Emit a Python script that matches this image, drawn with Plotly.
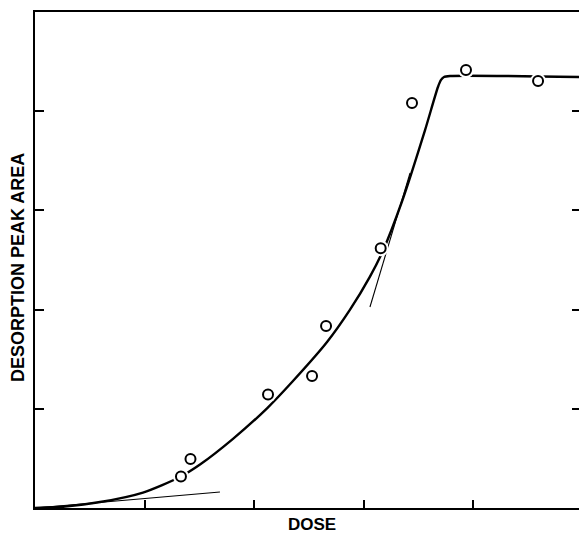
import plotly.graph_objects as go

# Measured data points (dose, desorption peak area), arbitrary units
dose_pts = [1.333, 1.420, 2.128, 2.530, 2.658, 3.157, 3.443, 3.936, 4.594]
area_pts = [0.318, 0.494, 1.144, 1.331, 1.835, 2.618, 4.083, 4.415, 4.304]

# Smooth fitted curve
curve_dose = [0.0, 0.274, 0.594, 0.986, 1.324, 1.507, 1.808, 2.119, 2.356, 2.667,
              2.877, 3.059, 3.178, 3.352, 3.562, 3.680, 3.708, 3.735, 3.790, 4.968]
curve_area = [0.0, 0.015, 0.060, 0.156, 0.313, 0.438, 0.697, 1.005, 1.280, 1.673,
              1.999, 2.332, 2.594, 3.092, 3.810, 4.244, 4.315, 4.345, 4.355, 4.345]

# Tangent lines
tan1_dose = [0.0, 1.689]
tan1_area = [0.0, 0.161]
tan2_dose = [3.059, 3.425]
tan2_area = [2.026, 3.377]

x_ticks = [1, 2, 3, 4]
y_ticks = [1, 2, 3, 4]
x_range = [0, 4.968]
y_range = [0, 5]

fig = go.Figure()
fig.add_trace(go.Scatter(x=tan1_dose, y=tan1_area, mode="lines",
                         line=dict(color="black", width=1.1), hoverinfo="skip"))
fig.add_trace(go.Scatter(x=tan2_dose, y=tan2_area, mode="lines",
                         line=dict(color="black", width=1.1), hoverinfo="skip"))
fig.add_trace(go.Scatter(x=curve_dose, y=curve_area, mode="lines",
                         line=dict(color="black", width=2.4, shape="spline", smoothing=0.7),
                         hoverinfo="skip"))
# white halo to break the curve around the circles
fig.add_trace(go.Scatter(x=dose_pts, y=area_pts, mode="markers",
                         marker=dict(symbol="circle", size=16, color="white",
                                     line=dict(width=0)), hoverinfo="skip"))
fig.add_trace(go.Scatter(x=dose_pts, y=area_pts, mode="markers",
                         marker=dict(symbol="circle", size=10, color="white",
                                     line=dict(color="black", width=2))))
# invisible trace on yaxis2 to show the right-side ticks
fig.add_trace(go.Scatter(x=[None], y=[None], yaxis="y2", showlegend=False))

font_bold = dict(family="Liberation Sans, Arial, sans-serif", color="black", weight="bold")

fig.update_layout(
    width=579, height=533,
    margin=dict(l=35, r=0, t=12, b=25, autoexpand=False),
    paper_bgcolor="white", plot_bgcolor="white",
    showlegend=False,
    xaxis=dict(range=x_range, tickvals=x_ticks, showticklabels=False,
               ticks="inside", ticklen=8, tickwidth=2, tickcolor="black",
               showline=True, linecolor="black", linewidth=2, mirror=True,
               showgrid=False, zeroline=False, automargin=False),
    yaxis=dict(range=y_range, tickvals=y_ticks, showticklabels=False,
               ticks="inside", ticklen=9, tickwidth=2, tickcolor="black",
               showline=True, linecolor="black", linewidth=2,
               showgrid=False, zeroline=False, automargin=False),
    yaxis2=dict(range=y_range, tickvals=y_ticks, showticklabels=False,
                overlaying="y", side="right",
                ticks="inside", ticklen=7, tickwidth=2, tickcolor="black",
                showline=False, showgrid=False, zeroline=False, automargin=False),
    annotations=[
        dict(text="DOSE", xref="paper", yref="paper", x=0.509, y=-0.034,
             xanchor="center", yanchor="middle", showarrow=False,
             font=dict(size=17, **font_bold)),
        dict(text="DESORPTION PEAK AREA", xref="paper", yref="paper", x=-0.031, y=0.484,
             xanchor="center", yanchor="middle", textangle=-90, showarrow=False,
             font=dict(size=18, **font_bold)),
    ],
)

fig.write_html("out.html", config={"displayModeBar": False},
               post_script="document.body.style.margin='0';document.body.style.padding='0';")
